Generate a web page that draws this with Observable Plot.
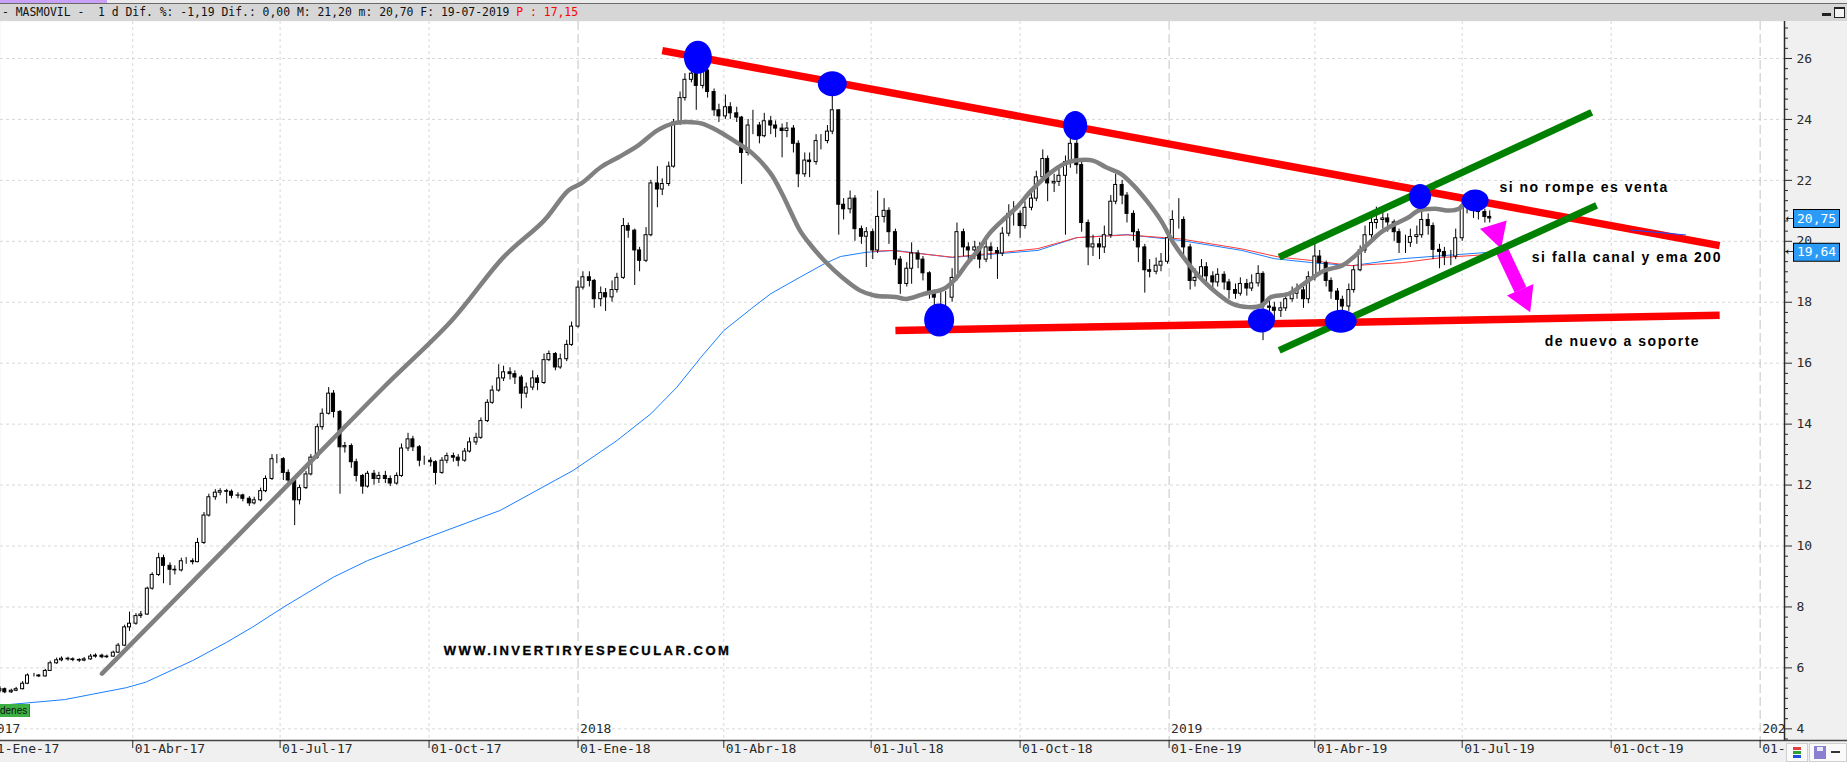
<!DOCTYPE html>
<html>
<head>
<meta charset="utf-8">
<script src="https://cdn.jsdelivr.net/npm/d3@7"></script>
<script src="https://cdn.jsdelivr.net/npm/@observablehq/plot@0.6"></script>
<style>
  html,body{margin:0;padding:0;}
  body{width:1847px;height:762px;overflow:hidden;position:relative;background:#f0f0f0;}
  #hdr{position:absolute;left:0;top:0;width:1847px;height:21px;background:#d6d6d6;}
  #strip{position:absolute;left:0;top:0;width:1847px;height:3px;background:#ececec;}
  #purple{position:absolute;left:0;top:0;width:107px;height:3px;background:#c8a0f8;}
  #hline{position:absolute;left:0;top:3px;width:1847px;height:1px;background:#6a6a6a;}
  #title{position:absolute;left:2px;top:5px;font:11.4px/15px "DejaVu Sans Mono",monospace;white-space:pre;color:#111;}
  #title .p{color:#f00;}
  #wmin{position:absolute;left:1822px;top:13px;width:9px;height:3px;background:#222;}
  #wmax{position:absolute;left:1834px;top:7px;width:9px;height:8px;border:1px solid #222;border-top-width:2px;background:#f4f4f4;}
  #chart{position:absolute;left:0;top:21px;}
  #denes{position:absolute;left:0;top:704px;width:29px;height:13px;background:#3cb043;border-right:1px solid #2a8a2a;
         font:10px/13px "Liberation Sans",sans-serif;color:#111;overflow:hidden;white-space:nowrap;}
  #br{position:absolute;left:1784px;top:742px;width:63px;height:20px;background:#f0f0f0;}
  #b1{position:absolute;left:2px;top:1px;width:20px;height:17px;background:#fafafa;border:1px solid #cfcfcf;}
  #b1 i{position:absolute;left:6px;width:8px;height:3px;}
  #b2{position:absolute;left:25px;top:1px;width:36px;height:17px;background:#fafafa;border:1px solid #cfcfcf;}
  #fl{position:absolute;left:4px;top:2px;width:12px;height:13px;background:#8a7fd0;}
  #fl2{position:absolute;left:7px;top:3px;width:6px;height:4px;background:#e8e8ff;}
  #pin{position:absolute;left:21px;top:7px;width:9px;height:2px;background:#333;}
</style>
</head>
<body>
<div id="hdr"><div id="strip"></div><div id="purple"></div><div id="hline"></div>
<div id="title">- MASMOVIL -  1 d Dif. %: -1,19 Dif.: 0,00 M: 21,20 m: 20,70 F: 19-07-2019 <span class="p">P : 17,15</span></div>
<div id="wmin"></div><div id="wmax"></div></div>
<div id="chart"></div>
<div id="denes">denes</div>
<div id="br"><div id="b1"><i style="top:3px;background:#e04040"></i><i style="top:7px;background:#30a030"></i><i style="top:11px;background:#2050e0"></i></div>
<div id="b2"><div id="fl"></div><div id="fl2"></div><div id="pin"></div></div></div>
<script>
// ---------------- DATA ----------------
// candle closes (two candles per week: Monday and Thursday), 2017-01-09 .. 2019-07-18
const firstOpen = 5.25;
const close = [
5.30,5.20, 5.25,5.30, 5.48,5.75, 5.75,5.72, 5.90,6.15, 6.25,6.30, 6.28,6.26, 6.24,6.28, 6.37,6.40, 6.35,6.37,
6.50,6.73, 7.33,7.45, 7.70,7.75, 8.60,9.05, 9.60,9.35, 9.22,9.20, 9.50,9.50, 9.47,10.10, 11.00,11.60, 11.75,11.80,
11.78,11.65, 11.66,11.55, 11.40,11.50, 11.80,12.20, 12.85,12.85, 12.40,12.15, 11.50,11.90, 12.35,12.90, 13.90,14.34, 15.00,14.40,
13.24,13.28, 12.75,12.30, 11.95,12.37, 12.20,12.30, 12.20,12.05, 12.30,13.20, 13.50,13.24, 12.80,12.80, 12.75,12.40, 12.80,12.95,
12.90,12.80, 13.10,13.40, 13.55,14.10, 14.70,15.10, 15.50,15.70, 15.64,15.53, 15.00,15.20, 15.50,15.35, 16.10,16.30, 15.86,16.13,
16.60,17.20, 18.48,18.82, 18.70,18.10, 18.30,18.16, 18.40,18.80, 20.50,20.35, 19.70,19.36, 20.20,21.90, 21.70,21.88, 22.45,23.90,
24.70,25.30, 25.50,25.10, 25.60,24.90, 24.30,24.10, 24.40,24.20, 24.06,22.90, 23.80,23.80, 23.45,23.94, 23.80,23.70, 23.62,23.70,
23.20,22.20, 22.65,22.60, 23.29,23.29, 23.60,24.30, 21.20,21.05, 21.40,20.40, 20.15,20.30, 19.70,20.80, 21.00,20.30, 19.40,18.60,
19.10,19.60, 19.40,18.95, 18.30,18.15, 18.15,18.15, 18.80,20.30, 19.80,19.70, 19.80,19.40, 19.80,19.68, 19.60,20.25, 20.90,20.90,
20.50,21.10, 21.40,22.10, 22.70,21.90, 21.95,22.15, 22.60,23.20, 22.50,20.60, 19.80,19.90, 19.80,20.20, 21.30,21.85, 21.50,20.90,
20.30,19.80, 19.05,19.00, 19.20,19.33, 20.10,20.70, 20.70,19.80, 18.70,18.80, 19.15,18.85, 18.65,18.90, 18.65,18.40, 18.28,18.60,
18.45,18.62, 18.93,17.86, 17.82,17.72, 17.80,18.10, 18.28,18.39, 18.10,18.82, 19.50,19.28, 18.70,18.35, 18.08,17.86, 18.40,19.05,
19.70,20.20, 20.60,20.70, 20.75,20.62, 20.30,19.95, 19.95,20.14, 20.20,20.70, 20.50,19.72, 19.65,19.50, 19.50,20.10, 21.15,21.12,
21.00,20.96, 20.80,20.75];
const high = [
5.38,5.34, 5.30,5.36, 5.55,5.80, 5.82,5.78, 5.95,6.22, 6.32,6.36, 6.35,6.33, 6.30,6.34, 6.44,6.46, 6.45,6.42,
6.55,6.80, 7.40,7.83, 7.78,7.85, 8.65,9.12, 9.76,9.70, 9.45,9.35, 9.60,9.62, 9.58,10.25, 11.10,11.70, 11.85,11.88,
11.86,11.84, 11.75,11.70, 11.62,11.60, 11.90,12.30, 13.00,13.00, 12.90,12.50, 12.20,12.00, 12.45,13.00, 14.00,14.50, 15.20,15.10,
14.45,13.40, 13.35,12.85, 12.35,12.45, 12.48,12.42, 12.45,12.30, 12.40,13.35, 13.70,13.60, 13.30,12.95, 12.90,12.80, 12.90,13.05,
13.05,13.00, 13.20,13.55, 13.70,14.20, 14.80,15.25, 15.95,15.90, 15.85,15.75, 15.60,15.35, 15.75,15.60, 16.30,16.40, 16.35,16.30,
16.75,17.35, 18.70,19.00, 19.00,18.75, 18.50,18.45, 18.70,18.95, 20.75,20.60, 20.40,19.80, 20.45,22.00, 22.45,22.05, 22.60,24.00,
24.90,25.50, 25.80,25.60, 26.25,25.80, 25.00,24.50, 24.80,24.55, 24.40,24.10, 24.00,24.30, 23.90,24.20, 24.10,23.95, 23.85,23.90,
23.80,23.30, 22.90,22.90, 23.50,23.50, 23.80,24.93, 24.30,21.40, 21.65,21.50, 20.50,20.45, 20.40,21.65, 21.40,21.10, 20.40,19.50,
19.30,19.95, 19.70,19.50, 19.00,18.40, 18.40,18.35, 19.10,20.60, 20.40,19.95, 20.00,19.95, 20.10,19.95, 19.80,20.45, 21.20,21.30,
21.00,21.30, 21.60,22.30, 23.00,22.80, 22.20,22.40, 22.80,23.50, 23.40,22.60, 20.70,20.20, 20.10,20.50, 21.50,22.20, 22.00,21.60,
21.00,20.40, 19.90,19.40, 19.45,19.60, 20.30,21.00, 21.40,20.80, 19.90,19.10, 19.40,19.30, 19.00,19.10, 19.00,18.75, 18.60,18.80,
18.75,18.90, 19.20,19.00, 18.10,18.00, 18.00,18.30, 18.50,18.60, 18.50,19.00, 19.90,19.70, 19.35,18.80, 18.45,18.20, 18.60,19.20,
19.85,20.50, 20.90,21.12, 21.00,20.90, 20.70,20.40, 20.20,20.40, 20.50,21.00, 20.90,20.60, 19.90,19.80, 19.70,20.40, 21.35,21.30,
21.20,21.15, 21.05,21.00];
const low = [
5.18,5.15, 5.16,5.22, 5.28,5.45, 5.70,5.68, 5.70,5.88, 6.12,6.20, 6.22,6.20, 6.18,6.20, 6.25,6.32, 6.30,6.31,
6.35,6.48, 6.70,7.20, 7.40,7.62, 7.72,8.55, 9.00,8.76, 8.70,9.05, 9.15,9.40, 9.38,9.45, 10.05,10.95, 11.50,11.65,
11.38,11.55, 11.55,11.45, 11.30,11.35, 11.45,11.75, 12.15,12.70, 12.15,12.05, 10.67,11.35, 11.85,12.30, 12.85,13.80, 14.30,14.20,
11.70,13.05, 12.55,12.10, 11.70,11.90, 12.00,12.05, 12.05,11.95, 12.00,12.25, 13.10,13.10, 12.60,12.65, 12.60,12.00, 12.35,12.70,
12.75,12.60, 12.75,13.05, 13.30,13.50, 14.05,14.65, 15.05,15.40, 15.45,15.30, 14.50,14.85, 15.10,15.10, 15.30,16.05, 15.75,15.80,
16.05,16.55, 17.15,18.40, 18.50,17.80, 17.85,17.70, 18.00,18.30, 18.75,20.10, 18.55,19.00, 19.30,20.15, 21.10,21.50, 21.80,22.40,
23.80,24.60, 25.20,24.30, 25.00,24.70, 24.10,23.90, 24.00,24.00, 23.90,21.87, 22.80,23.50, 23.20,23.40, 23.50,23.40, 22.74,23.40,
22.90,21.76, 22.10,22.09, 22.50,23.00, 23.20,23.50, 20.20,20.70, 20.90,20.00, 19.90,19.14, 19.40,19.60, 20.60,19.90, 19.20,18.26,
18.50,18.59, 19.10,18.70, 18.10,17.80, 17.60,17.80, 18.00,18.70, 19.50,19.40, 19.40,19.10, 19.30,19.40, 18.75,19.50, 20.15,20.50,
20.10,20.40, 21.00,21.30, 22.00,21.30, 21.60,21.80, 20.20,22.40, 22.20,20.30, 19.20,19.50, 19.40,19.60, 20.10,21.20, 21.20,20.60,
20.00,19.30, 18.30,18.80, 18.90,19.00, 19.25,20.00, 20.40,19.50, 18.40,18.50, 18.70,18.60, 18.40,18.50, 18.40,18.10, 18.10,18.20,
18.20,18.35, 18.50,16.74, 17.40,17.40, 17.50,17.70, 18.00,18.10, 17.80,17.95, 18.70,19.00, 18.50,18.10, 17.60,17.50, 17.70,18.30,
19.00,19.60, 20.10,20.40, 20.40,20.30, 20.00,19.60, 19.60,19.80, 19.90,20.10, 20.20,19.40, 19.10,19.20, 19.20,19.40, 20.00,20.90,
20.75,20.70, 20.60,20.60];

// grey moving average
const maDates = ["2017-03-13","2017-05-13","2017-07-14","2017-09-03","2017-10-15","2017-11-16","2017-12-11","2017-12-26",
"2018-01-03","2018-01-15","2018-01-26","2018-02-07","2018-02-19","2018-03-01","2018-03-12","2018-03-18","2018-03-28",
"2018-04-07","2018-04-19","2018-04-30","2018-05-07","2018-05-11","2018-05-18","2018-05-24","2018-06-02","2018-06-13",
"2018-06-24","2018-07-03","2018-07-16","2018-07-23","2018-08-03","2018-08-15","2018-08-23","2018-08-29","2018-09-05",
"2018-09-12","2018-09-20","2018-09-29","2018-10-08","2018-10-19","2018-10-28","2018-11-04","2018-11-15","2018-11-23",
"2018-12-02","2018-12-11","2018-12-18","2018-12-27","2019-01-04","2019-01-13","2019-01-22","2019-01-31","2019-02-09",
"2019-02-19","2019-02-27","2019-03-05","2019-03-16","2019-03-28","2019-04-07","2019-04-18","2019-04-26","2019-05-04",
"2019-05-12","2019-05-21","2019-05-29","2019-06-04","2019-06-14","2019-06-23","2019-06-29","2019-07-02","2019-07-06"];
const maValues = [5.81,9.10,12.45,15.21,17.40,19.48,20.68,21.67,
21.90,22.43,22.76,23.14,23.64,23.87,23.91,23.87,23.64,
23.31,22.87,22.22,21.56,21.12,20.36,19.92,19.37,18.82,
18.39,18.22,18.17,18.11,18.28,18.44,18.82,19.26,19.70,
20.25,20.68,21.12,21.67,22.22,22.54,22.65,22.65,22.43,
22.22,21.78,21.34,20.68,19.92,19.26,18.71,18.28,17.95,
17.84,17.89,18.17,18.28,18.71,19.04,19.21,19.53,19.92,
20.30,20.58,20.79,21.01,21.07,21.01,21.07,21.23,21.35];

// blue EMA 200
const emaDates = ["2017-01-09","2017-02-18","2017-03-28","2017-04-09","2017-05-08","2017-05-29","2017-06-14","2017-07-03",
"2017-08-03","2017-08-24","2017-09-25","2017-11-14","2017-12-29","2018-01-25","2018-02-15","2018-03-03","2018-03-18",
"2018-04-01","2018-04-18","2018-04-30","2018-05-18","2018-06-02","2018-06-12","2018-06-28","2018-07-16","2018-08-20",
"2018-09-19","2018-10-12","2018-11-05","2018-12-06","2019-01-08","2019-02-15","2019-03-07","2019-03-30","2019-04-24",
"2019-05-25","2019-06-19","2019-07-18"];
const emaValues = [4.77,4.96,5.35,5.53,6.24,6.84,7.34,7.99,
8.98,9.52,10.18,11.17,12.48,13.46,14.34,15.21,16.20,
17.07,17.79,18.28,18.82,19.26,19.50,19.64,19.70,19.47,
19.60,19.70,20.12,20.22,20.03,19.70,19.43,19.30,19.20,
19.43,19.53,19.64];

// thin red moving average
const smaDates = ["2018-07-02","2018-07-13","2018-08-20","2018-09-19","2018-10-12","2018-11-05","2018-12-06","2019-01-08",
"2019-02-15","2019-03-10","2019-03-30","2019-04-24","2019-05-25","2019-06-19","2019-07-18"];
const smaValues = [19.67,19.70,19.48,19.63,19.76,20.12,20.21,20.08,19.75,19.48,19.37,19.20,19.30,19.47,19.57];

// hand-drawn annotations
const resistDates = ["2018-02-22","2019-12-07"], resistValues = [26.26,19.86];
const supportDates = ["2018-07-16","2019-12-07"], supportValues = [17.07,17.57];
const chanTopDates = ["2019-03-10","2019-09-19"], chanTopValues = [19.48,24.23];
const chanLowDates = ["2019-03-10","2019-09-22"], chanLowValues = [16.42,21.18];
const thinDates = ["2019-10-13","2019-11-16"], thinValues = [20.37,20.21];
const dotDates = ["2018-03-16","2018-06-07","2018-11-04","2018-08-12","2019-02-27","2019-04-17","2019-06-05","2019-07-09"];
const dotValues = [26.04,25.17,23.80,17.42,17.40,17.38,21.47,21.34];
const arrowTipDates = ["2019-07-12","2019-08-12"], arrowTipValues = [20.41,17.67];
const arrowShaftDates = ["2019-07-25","2019-08-06"], arrowShaftValues = [19.76,18.41];
const noteDates = ["2019-07-24","2019-08-13","2019-08-21"];
const noteValues = [21.76,19.46,16.72];
const noteTexts = ["si no rompe es venta","si falla canal y ema 200","de nuevo a soporte"];
const webDate = "2017-10-10", webValue = 6.57, webText = "WWW.INVERTIRYESPECULAR.COM";

// axes
const yTicks = [4,6,8,10,12,14,16,18,20,22,24,26];
const quarterTicks = ["2017-01-01","2017-04-01","2017-07-01","2017-10-01","2018-01-01","2018-04-01","2018-07-01",
"2018-10-01","2019-01-01","2019-04-01","2019-07-01","2019-10-01","2020-01-01"];
const quarterLabels = ["01-Ene-17","01-Abr-17","01-Jul-17","01-Oct-17","01-Ene-18","01-Abr-18","01-Jul-18",
"01-Oct-18","01-Ene-19","01-Abr-19","01-Jul-19","01-Oct-19","01-Ene-20"];
const yearTicks = ["2017-01-01","2018-01-01","2019-01-01","2020-01-01"];
const yearLabels = ["2017","2018","2019","2020"];

// ---------------- BUILD ----------------
const P = d3.utcParse("%Y-%m-%d");
const candleDates = [...d3.utcMonday.range(P("2017-01-09"), P("2019-07-16")),
                     ...d3.utcThursday.range(P("2017-01-12"), P("2019-07-19"))].sort((a,b)=>a-b);
const candles = candleDates.map((date,i)=>({date, open: i ? close[i-1] : firstOpen, close: close[i], high: high[i], low: low[i]}));
const upC = candles.filter(d=>d.close>=d.open), dnC = candles.filter(d=>d.close<d.open);
const series = (ds, vs) => ds.map((d,i)=>({date: P(d), value: vs[i]}));
const ma = series(maDates, maValues), ema = series(emaDates, emaValues), sma = series(smaDates, smaValues);
const qT = quarterTicks.map(P), yT = yearTicks.map(P);
const qMinor = qT.filter(d=>d.getUTCMonth()!==0);
const minorY = d3.range(4 - 2/3, 27.2, 1/3).filter(v => Math.abs(v/2 - Math.round(v/2)) > 1e-6);
const lastClose = close[close.length-1], lastEma = emaValues[emaValues.length-1];

function ellipse(rx, ry){ const k=0.5523; return {draw(c){
  c.moveTo(rx,0); c.bezierCurveTo(rx,k*ry,k*rx,ry,0,ry); c.bezierCurveTo(-k*rx,ry,-rx,k*ry,-rx,0);
  c.bezierCurveTo(-rx,-k*ry,-k*rx,-ry,0,-ry); c.bezierCurveTo(k*rx,-ry,rx,-k*ry,rx,0); c.closePath(); }}; }
function tri(a, b){ return {draw(c){ c.moveTo(0,0); c.lineTo(a[0],a[1]); c.lineTo(b[0],b[1]); c.closePath(); }}; }
const dotSize = [[14,16.5],[14.5,12.5],[12,14.5],[15,16.5],[13.5,12],[16,11.5],[11,12.5],[13.5,11]];
const headShape = [tri([26.7,-8.3],[21,20]), tri([-23.3,-16.7],[3.3,-28.3])];

const twoPt = (ds, vs, opts) => Plot.line(series(ds, vs), {x:"date", y:"value", ...opts});
const mono = "DejaVu Sans Mono";
const ax = "#2a2a2a";

const svg = Plot.plot({
  width: 1847, height: 741,
  marginLeft: 0, marginRight: 63, marginTop: 0, marginBottom: 22,
  x: {type: "utc", domain: [new Date("2017-01-09T08:00:00Z"), new Date("2020-01-16T01:00:00Z")], axis: null},
  y: {domain: [3.617, 27.214], axis: null},
  style: {background: "transparent", overflow: "visible"},
  marks: [
    Plot.frame({fill: "white", stroke: "none"}),
    Plot.ruleY(yTicks, {stroke: "#d8d8d8", strokeDasharray: "3,3"}),
    Plot.ruleX(qMinor, {stroke: "#d8d8d8", strokeDasharray: "3,3"}),
    Plot.ruleX(yT, {stroke: "#c4c4c4", strokeDasharray: "9,4"}),
    Plot.line(ema, {x: "date", y: "value", stroke: "#1a7fff", strokeWidth: 1}),
    Plot.line(sma, {x: "date", y: "value", stroke: "#ff3a3a", strokeWidth: 1}),
    Plot.ruleX(candles, {x: "date", y1: "low", y2: "high", stroke: "#000", strokeWidth: 1}),
    Plot.rect(upC, {x1: "date", x2: "date", y1: "open", y2: "close", insetLeft: -1.5, insetRight: -1.5, fill: "#fff", stroke: "#000", strokeWidth: 1}),
    Plot.rect(dnC, {x1: "date", x2: "date", y1: "open", y2: "close", insetLeft: -1.5, insetRight: -1.5, fill: "#000", stroke: "#000", strokeWidth: 1}),
    Plot.line(ma, {x: "date", y: "value", stroke: "#808080", strokeWidth: 4.5, curve: "catmull-rom", strokeLinecap: "round"}),
    twoPt(resistDates, resistValues, {stroke: "#ff0000", strokeWidth: 7.5, strokeLinecap: "butt"}),
    twoPt(supportDates, supportValues, {stroke: "#ff0000", strokeWidth: 7.5, strokeLinecap: "butt"}),
    twoPt(thinDates, thinValues, {stroke: "#1a50ff", strokeWidth: 1}),
    Plot.link([0], {x1: () => P(arrowShaftDates[0]), y1: () => arrowShaftValues[0], x2: () => P(arrowShaftDates[1]), y2: () => arrowShaftValues[1],
      stroke: "#ff00ff", strokeWidth: 13, strokeLinecap: "butt"}),
    ...arrowTipDates.map((d,i) => Plot.dot([i], {x: () => P(d), y: () => arrowTipValues[i], symbol: headShape[i], fill: "#ff00ff", stroke: "none"})),
    twoPt(chanTopDates, chanTopValues, {stroke: "#008000", strokeWidth: 7, strokeLinecap: "butt"}),
    twoPt(chanLowDates, chanLowValues, {stroke: "#008000", strokeWidth: 7, strokeLinecap: "butt"}),
    ...dotDates.map((d,i) => Plot.dot([i], {x: () => P(d), y: () => dotValues[i], symbol: ellipse(dotSize[i][0], dotSize[i][1]), fill: "#0000ff", stroke: "none"})),
    Plot.text(noteTexts, {x: (t,i) => P(noteDates[i]), y: (t,i) => noteValues[i], text: t => t, textAnchor: "start",
      fontFamily: "Liberation Sans", fontWeight: "bold", fontSize: 14, fill: "#000"}),
    Plot.text([webText], {x: () => P(webDate), y: () => webValue, text: t => t, textAnchor: "start",
      fontFamily: "Liberation Sans", fontWeight: "bold", fontSize: 13, fill: "#000", stroke: "#000", strokeWidth: 0.35}),
    // year labels inside the frame
    Plot.text(yT, {x: d => d, text: (d,i) => yearLabels[i], frameAnchor: "bottom", dy: -8, dx: 2, textAnchor: "start",
      fontFamily: mono, fontSize: 13, fill: ax, clip: true}),
    // axes
    Plot.ruleX([new Date("2020-01-16T01:00:00Z")], {stroke: ax, strokeWidth: 1.5}),
    Plot.ruleY([3.617], {stroke: "#444", strokeWidth: 1.5, insetRight: -63}),
    Plot.ruleY(yTicks, {insetLeft: 1784, insetRight: -8, stroke: ax}),
    Plot.ruleY(minorY, {insetLeft: 1784, insetRight: -4, stroke: ax}),
    Plot.text(yTicks, {y: d => d, text: d => String(d), frameAnchor: "right", dx: 12, textAnchor: "start",
      fontFamily: mono, fontSize: 13, fill: ax}),
    Plot.ruleX(qT, {insetTop: 719, insetBottom: -8, stroke: ax}),
    Plot.text(qT, {x: d => d, text: (d,i) => quarterLabels[i], frameAnchor: "bottom", dy: 12, dx: 2, textAnchor: "start",
      fontFamily: mono, fontSize: 13, fill: ax}),
    // last-value boxes
    Plot.ruleY([lastClose, lastEma], {insetLeft: 1793, insetRight: -56, stroke: "#000", strokeWidth: 19}),
    Plot.ruleY([lastClose, lastEma], {insetLeft: 1794, insetRight: -55, stroke: "#2a9cf8", strokeWidth: 17}),
    Plot.text([lastClose, lastEma], {y: d => d, text: d => d.toFixed(2).replace(".", ","), frameAnchor: "right", dx: 12.5,
      textAnchor: "start", fontFamily: mono, fontSize: 13, fill: "#fff"}),
    Plot.text([lastClose, lastEma], {y: d => d, text: () => "←", frameAnchor: "right", dx: 1, textAnchor: "start",
      fontFamily: "DejaVu Sans", fontSize: 10, fill: "#000"})
  ]
});
d3.select(svg).selectAll("text").each(function(){
  const t = this.textContent;
  if (noteTexts.includes(t)) this.setAttribute("letter-spacing", "1.5px");
  if (t === webText) this.setAttribute("letter-spacing", "2.5px");
});
document.getElementById("chart").appendChild(svg);
</script>
</body>
</html>
